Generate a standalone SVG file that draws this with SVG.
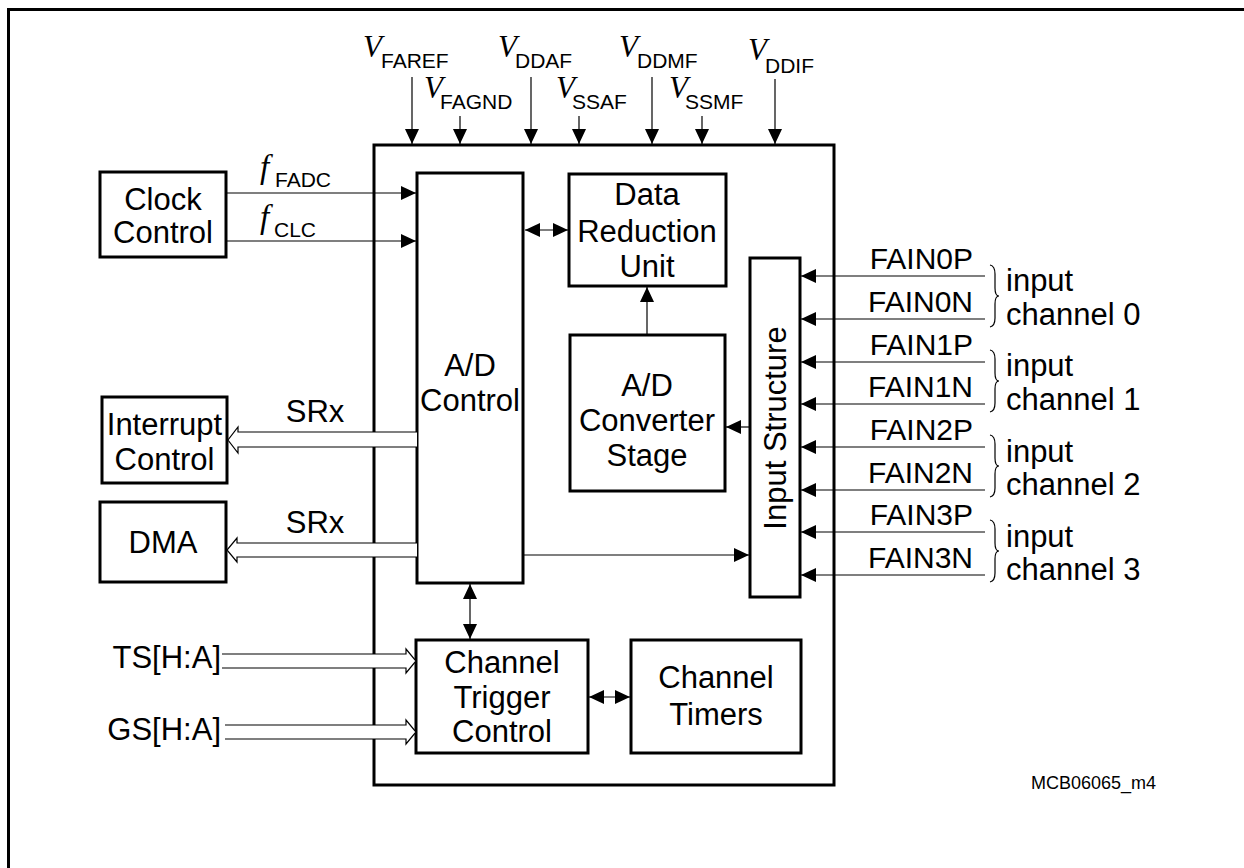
<svg xmlns="http://www.w3.org/2000/svg" width="1244" height="868" viewBox="0 0 1244 868">
<style>
.box{fill:#fff;stroke:#000;stroke-width:3}
.ln{fill:none;stroke:#000;stroke-width:1.2}
.hol{fill:#fff;stroke:#000;stroke-width:1.2}
.t{font-family:"Liberation Sans",Arial,sans-serif;font-size:31px;fill:#000}
.m{text-anchor:middle}
.e{text-anchor:end}
.v{font-family:"Liberation Serif","Times New Roman",serif;font-style:italic;font-size:31px;fill:#000}
.f{font-family:"Liberation Serif","Times New Roman",serif;font-style:italic;font-size:33px;fill:#000}
.s{font-family:"Liberation Sans",Arial,sans-serif;font-size:21px;fill:#000}
.fa{font-family:"Liberation Sans",Arial,sans-serif;font-size:30px;fill:#000}
.sm{font-family:"Liberation Sans",Arial,sans-serif;font-size:18px;fill:#000}
</style>
<defs>
<marker id="ah" viewBox="0 0 15 14" markerWidth="15" markerHeight="14" refX="15" refY="7" orient="auto-start-reverse" markerUnits="userSpaceOnUse"><path d="M0,0 L15,7 L0,14 z" fill="#000"/></marker>
</defs>
<rect width="1244" height="868" fill="#fff"/>
<path d="M8.5,868 V9.5 H1244" fill="none" stroke="#000" stroke-width="3"/>

<g id="main"><rect class="box" x="374" y="145" width="460" height="640"/></g>

<g id="supply-labels">
<text class="v" x="363" y="57">V</text><text class="s" x="381" y="68">FAREF</text>
<text class="v" x="424" y="98">V</text><text class="s" x="440" y="109">FAGND</text>
<text class="v" x="498" y="57">V</text><text class="s" x="515" y="68">DDAF</text>
<text class="v" x="556" y="98">V</text><text class="s" x="572" y="109">SSAF</text>
<text class="v" x="619" y="57">V</text><text class="s" x="637" y="68">DDMF</text>
<text class="v" x="669" y="98">V</text><text class="s" x="685" y="109">SSMF</text>
<text class="v" x="748" y="60">V</text><text class="s" x="765" y="73">DDIF</text>
</g>

<g id="clock-control"><rect class="box" x="100" y="172" width="126" height="85"/>
<text class="t m" x="163" y="210">Clock</text><text class="t m" x="163" y="243">Control</text></g>

<g id="interrupt-control"><rect class="box" x="102" y="397" width="125" height="86"/>
<text class="t m" x="164.5" y="435">Interrupt</text><text class="t m" x="164.5" y="470">Control</text></g>

<g id="dma"><rect class="box" x="100" y="502" width="126" height="80"/>
<text class="t m" x="163" y="553">DMA</text></g>

<g id="ad-control"><rect class="box" x="417" y="173" width="106" height="410"/>
<text class="t m" x="470" y="376">A/D</text><text class="t m" x="470" y="411">Control</text></g>

<g id="data-reduction"><rect class="box" x="569" y="174" width="157" height="112"/>
<text class="t m" x="647" y="205">Data</text><text class="t m" x="647" y="242">Reduction</text><text class="t m" x="647" y="277">Unit</text></g>

<g id="ad-converter"><rect class="box" x="570" y="335" width="155" height="156"/>
<text class="t m" x="647" y="396">A/D</text><text class="t m" x="647" y="431">Converter</text><text class="t m" x="647" y="466">Stage</text></g>

<g id="input-structure"><rect class="box" x="750" y="258" width="50" height="339"/>
<text class="t m" transform="translate(786,428) rotate(-90)" x="0" y="0">Input Structure</text></g>

<g id="channel-trigger"><rect class="box" x="416" y="640" width="172" height="113"/>
<text class="t m" x="502" y="673">Channel</text><text class="t m" x="502" y="708">Trigger</text><text class="t m" x="502" y="742">Control</text></g>

<g id="channel-timers"><rect class="box" x="631" y="640" width="170" height="113"/>
<text class="t m" x="716" y="688">Channel</text><text class="t m" x="716" y="725">Timers</text></g>

<g id="connectors">
<line class="ln" x1="412" y1="77" x2="412" y2="144" marker-end="url(#ah)"/>
<line class="ln" x1="460" y1="116" x2="460" y2="144" marker-end="url(#ah)"/>
<line class="ln" x1="531" y1="77" x2="531" y2="144" marker-end="url(#ah)"/>
<line class="ln" x1="579" y1="116" x2="579" y2="144" marker-end="url(#ah)"/>
<line class="ln" x1="652" y1="77" x2="652" y2="144" marker-end="url(#ah)"/>
<line class="ln" x1="702" y1="116" x2="702" y2="144" marker-end="url(#ah)"/>
<line class="ln" x1="775" y1="79" x2="775" y2="144" marker-end="url(#ah)"/>

<line class="ln" x1="226" y1="193" x2="416" y2="193" marker-end="url(#ah)"/>
<line class="ln" x1="226" y1="241" x2="416" y2="241" marker-end="url(#ah)"/>

<path class="hol" d="M417,432 H238 V427 L228,440 L238,453 V447 H417"/>
<path class="hol" d="M417,543 H237 V538 L227,550 L237,562 V557 H417"/>
<path class="hol" d="M222,654 H406 V649 L416,661 L406,673 V668 H222"/>
<path class="hol" d="M225,725 H406 V720 L416,732 L406,744 V739 H225"/>

<line class="ln" x1="525" y1="230" x2="568" y2="230" marker-start="url(#ah)" marker-end="url(#ah)"/>
<line class="ln" x1="647" y1="335" x2="647" y2="287" marker-end="url(#ah)"/>
<line class="ln" x1="750" y1="427" x2="726" y2="427" marker-end="url(#ah)"/>
<line class="ln" x1="523" y1="555" x2="749" y2="555" marker-end="url(#ah)"/>
<line class="ln" x1="470" y1="584" x2="470" y2="639" marker-start="url(#ah)" marker-end="url(#ah)"/>
<line class="ln" x1="589" y1="697" x2="630" y2="697" marker-start="url(#ah)" marker-end="url(#ah)"/>

<line class="ln" x1="985" y1="276" x2="801" y2="276" marker-end="url(#ah)"/>
<line class="ln" x1="985" y1="319" x2="801" y2="319" marker-end="url(#ah)"/>
<line class="ln" x1="985" y1="362" x2="801" y2="362" marker-end="url(#ah)"/>
<line class="ln" x1="985" y1="404" x2="801" y2="404" marker-end="url(#ah)"/>
<line class="ln" x1="985" y1="447" x2="801" y2="447" marker-end="url(#ah)"/>
<line class="ln" x1="985" y1="490" x2="801" y2="490" marker-end="url(#ah)"/>
<line class="ln" x1="985" y1="532" x2="801" y2="532" marker-end="url(#ah)"/>
<line class="ln" x1="985" y1="575" x2="801" y2="575" marker-end="url(#ah)"/>

<path class="ln" d="M990,265 Q995,266 995,274 V288 Q995,296 999,296 Q995,296 995,304 V318 Q995,326 990,327"/>
<path class="ln" d="M990,350 Q995,351 995,359 V373 Q995,381 999,381 Q995,381 995,389 V403 Q995,411 990,412"/>
<path class="ln" d="M990,435 Q995,436 995,444 V458 Q995,466 999,466 Q995,466 995,474 V488 Q995,496 990,497"/>
<path class="ln" d="M990,520 Q995,521 995,529 V543 Q995,551 999,551 Q995,551 995,559 V573 Q995,581 990,582"/>
</g>

<g id="labels">
<text class="f" x="260" y="178">f</text><text class="s" x="275" y="187">FADC</text>
<text class="f" x="260" y="228">f</text><text class="s" x="274" y="237">CLC</text>
<text class="t m" x="315" y="422">SRx</text>
<text class="t m" x="315" y="533">SRx</text>
<text class="t e" x="221" y="668">TS[H:A]</text>
<text class="t e" x="221" y="740">GS[H:A]</text>
<text class="fa e" x="973" y="269">FAIN0P</text>
<text class="fa e" x="973" y="312">FAIN0N</text>
<text class="fa e" x="973" y="355">FAIN1P</text>
<text class="fa e" x="973" y="397">FAIN1N</text>
<text class="fa e" x="973" y="440">FAIN2P</text>
<text class="fa e" x="973" y="483">FAIN2N</text>
<text class="fa e" x="973" y="525">FAIN3P</text>
<text class="fa e" x="973" y="568">FAIN3N</text>
<text class="t" x="1006" y="291">input</text><text class="t" x="1006" y="325">channel 0</text>
<text class="t" x="1006" y="376">input</text><text class="t" x="1006" y="410">channel 1</text>
<text class="t" x="1006" y="462">input</text><text class="t" x="1006" y="495">channel 2</text>
<text class="t" x="1006" y="547">input</text><text class="t" x="1006" y="580">channel 3</text>
<text class="sm" x="1031" y="789">MCB06065_m4</text>
</g>
</svg>
